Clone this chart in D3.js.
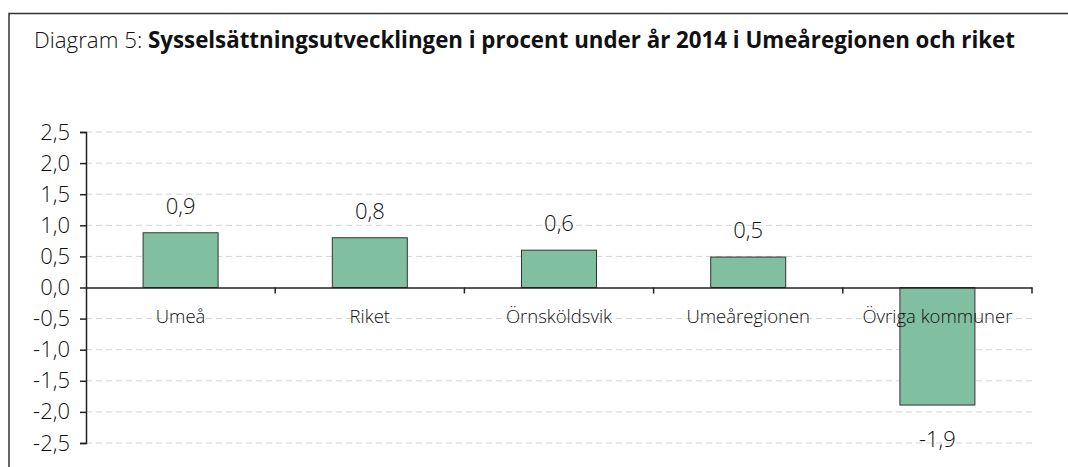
<!DOCTYPE html>
<html><head><meta charset="utf-8">
<script src="https://cdn.jsdelivr.net/npm/d3@7"></script>
<style>body{margin:0;background:#fff}svg{display:block}</style>
</head><body>
<svg id="c" width="1068" height="467"></svg>
<script>
const categories = ["Umeå", "Riket", "Örnsköldsvik", "Umeåregionen", "Övriga kommuner"];
const values = [0.88, 0.80, 0.60, 0.49, -1.89];
const valueLabels = ["0,9", "0,8", "0,6", "0,5", "-1,9"];
const yTicks = [2.5, 2.0, 1.5, 1.0, 0.5, 0.0, -0.5, -1.0, -1.5, -2.0, -2.5];

const svg = d3.select("#c");
const font = "'Open Sans', sans-serif";
// frame
svg.append("rect").attr("x", 9).attr("y", 13.5).attr("width", 1070).attr("height", 470)
  .attr("fill", "none").attr("stroke", "#333").attr("stroke-width", 1.5);

const title = svg.append("text").attr("x", 34).attr("y", 48).attr("font-family", font)
  .attr("font-size", 22.3).attr("fill", "#111");
title.append("tspan").attr("font-weight", 300).text("Diagram 5: ");
title.append("tspan").attr("font-weight", 700).text("Sysselsättningsutvecklingen i procent under år 2014 i Umeåregionen och riket");

const x0 = 86, x1 = 1032;
const x = d3.scaleBand().domain(categories).range([x0, x1]).paddingInner(0).paddingOuter(0);
const y = d3.scaleLinear().domain([-2.5, 2.5]).range([443, 132]);

// gridlines
svg.append("g").selectAll("line").data(yTicks.filter(d => d !== 0)).join("line")
  .attr("x1", x0).attr("x2", x1).attr("y1", d => y(d)).attr("y2", d => y(d))
  .attr("stroke", "#d4d4d4").attr("stroke-width", 1).attr("stroke-dasharray", "6,4");

// y axis
const yAxis = d3.axisLeft(y).tickValues(yTicks).tickSize(6).tickPadding(10)
  .tickFormat(d => d3.format(".1f")(d).replace(".", ",").replace("−", "-"));
const ga = svg.append("g").attr("transform", `translate(${x0},0)`).call(yAxis);
ga.select(".domain").attr("stroke", "#222").attr("stroke-width", 1.5);
ga.selectAll(".tick line").attr("stroke", "#222").attr("stroke-width", 1.5);
ga.selectAll(".tick text").attr("font-family", font).attr("font-size", 22)
  .attr("font-weight", 300).attr("fill", "#111");

// bars
const bw = 75;
svg.append("g").selectAll("rect").data(values).join("rect")
  .attr("x", (d, i) => x(categories[i]) + x.bandwidth() / 2 - bw / 2)
  .attr("width", bw)
  .attr("y", d => y(Math.max(0, d)))
  .attr("height", d => Math.abs(y(d) - y(0)))
  .attr("fill", "#80bf9f").attr("stroke", "#333").attr("stroke-width", 1);

// x axis at zero
const xAxis = d3.axisBottom(x).tickSize(0).tickFormat("");
const gx = svg.append("g").attr("transform", `translate(0,${y(0)})`).call(xAxis);
gx.select(".domain").attr("stroke", "#222").attr("stroke-width", 1.5);
// category boundary ticks
svg.append("g").selectAll("line").data(d3.range(1, categories.length + 1)).join("line")
  .attr("x1", i => x0 + i * x.bandwidth()).attr("x2", i => x0 + i * x.bandwidth())
  .attr("y1", y(0)).attr("y2", y(0) + 6).attr("stroke", "#222").attr("stroke-width", 1.5);

// category labels
svg.append("g").selectAll("text").data(categories).join("text")
  .attr("x", d => x(d) + x.bandwidth() / 2).attr("y", y(0) + 35)
  .attr("text-anchor", "middle").attr("font-family", font).attr("font-size", 18.5)
  .attr("font-weight", 300).attr("fill", "#111").text(d => d);

// value labels
svg.append("g").selectAll("text").data(values).join("text")
  .attr("x", (d, i) => x(categories[i]) + x.bandwidth() / 2)
  .attr("y", d => d >= 0 ? y(d) - 19 : y(d) + 42)
  .attr("text-anchor", "middle").attr("font-family", font).attr("font-size", 22)
  .attr("font-weight", 300).attr("fill", "#111").text((d, i) => valueLabels[i]);
</script>
</body></html>
